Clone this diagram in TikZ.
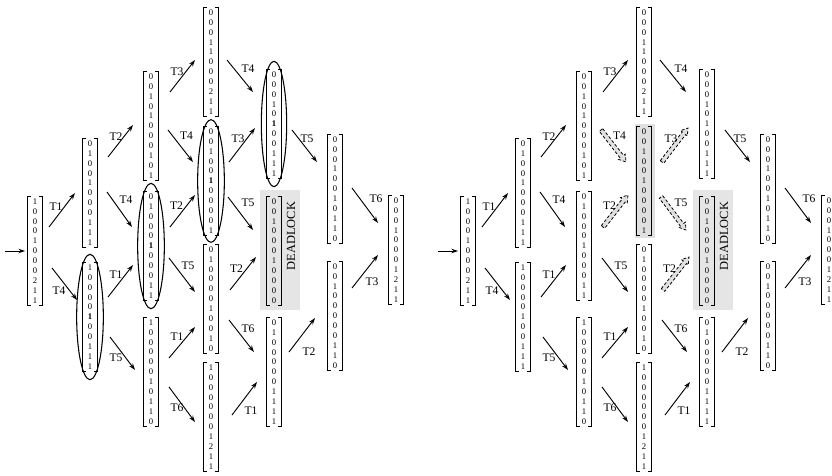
\documentclass[tikz,border=0pt]{standalone}
\usepackage{fontspec}
\setmainfont{Liberation Serif}
\usetikzlibrary{calc,arrows.meta,backgrounds}
\newcommand\vfont{\fontsize{6.5}{7.45}\selectfont}
\newcommand\lfont{\fontsize{8.7}{10}\selectfont}
\newcommand\dlfont{\fontsize{9.3}{10}\selectfont}
\tikzset{
 vec/.style={inner sep=0pt, minimum width=10.5pt, minimum height=81pt, align=center, font=\vfont},
 brk/.style={line width=0.8pt},
 arr/.style={line width=0.7pt, -{Stealth[length=5pt,width=3.4pt]}},
 lab/.style={font=\lfont, inner sep=0pt},
 ell/.style={draw, line width=0.8pt},
 dlbox/.style={fill=black!10, draw=none},
 hlbox/.style={fill=black!12, draw=none},
 fat/.style={draw, dash pattern=on 2.2pt off 1.5pt, fill=black!12, line width=0.6pt},
}
% normal arrow: src, src offset, dst, dst offset, label, label shift
\newcommand\tarr[6]{%
 \coordinate (#1#3s) at ($(#1)+(#2)$);
 \coordinate (#1#3e) at ($(#3)+(#4)$);
 \draw[arr] (#1#3s) -- (#1#3e);
 \node[lab] (#1#3l) at ($(#1#3s)!.5!(#1#3e)+(#6)$) {#5};
}
% fat dashed arrow
\newcommand\farr[6]{%
 \coordinate (#1#3s) at ($(#1)+(#2)$);
 \coordinate (#1#3e) at ($(#3)+(#4)$);
 \filldraw[fat] ($(#1#3s)!1.6pt!90:(#1#3e)$)
  -- ($(#1#3e)!5pt!(#1#3s)!1.6pt!-90:(#1#3s)$)
  -- ($(#1#3e)!5pt!(#1#3s)!3.2pt!-90:(#1#3s)$)
  -- (#1#3e)
  -- ($(#1#3e)!5pt!(#1#3s)!3.2pt!90:(#1#3s)$)
  -- ($(#1#3e)!5pt!(#1#3s)!1.6pt!90:(#1#3s)$)
  -- ($(#1#3s)!1.6pt!-90:(#1#3e)$) -- cycle;
 \node[lab] (#1#3l) at ($(#1#3s)!.5!(#1#3e)+(#6)$) {#5};
}
% whole net: prefix, mode (1 left, 2 right), x offset
\newcommand\net[3]{%
 \ifnum#2=1 \let\sarr\tarr \let\B\textbf \else \let\sarr\farr \let\B\relax \fi
 \node[vec] (#1c0)  at ({#3+35},251)  {1\\0\\0\\0\\1\\0\\0\\0\\2\\1\\1};
 \node[vec] (#1c1t) at ({#3+90},193)  {0\\1\\0\\0\\1\\0\\0\\0\\1\\1\\1};
 \node[vec] (#1c1b) at ({#3+90},317)  {1\\0\\0\\0\\0\\\B{1}\\0\\0\\1\\1\\1};
 \node[vec] (#1c2t) at ({#3+151},126) {0\\0\\1\\0\\1\\0\\0\\0\\1\\0\\1};
 \node[vec] (#1c2m) at ({#3+151},246) {0\\1\\0\\0\\0\\\B{1}\\0\\0\\0\\1\\1};
 \node[vec] (#1c2b) at ({#3+151},372) {1\\0\\0\\0\\0\\0\\1\\0\\1\\1\\0};
 \node[vec] (#1c3a) at ({#3+211},62)  {0\\0\\0\\1\\1\\0\\0\\0\\2\\1\\1};
 \node[vec] (#1c3b) at ({#3+211},181) {0\\0\\1\\0\\0\\\B{1}\\0\\0\\0\\0\\1};
 \node[vec] (#1c3c) at ({#3+211},299) {0\\1\\0\\0\\0\\0\\1\\0\\0\\1\\0};
 \node[vec] (#1c3d) at ({#3+211},417) {1\\0\\0\\0\\0\\0\\0\\1\\2\\1\\1};
 \node[vec] (#1c4t) at ({#3+274},124) {0\\0\\0\\1\\0\\\B{1}\\0\\0\\1\\1\\1};
 \node[vec] (#1c4d) at ({#3+274},251) {0\\0\\1\\0\\0\\0\\1\\0\\0\\0\\0};
 \node[vec] (#1c4b) at ({#3+274},372) {0\\1\\0\\0\\0\\0\\0\\1\\1\\1\\1};
 \node[vec] (#1c5t) at ({#3+335},189) {0\\0\\0\\1\\0\\0\\1\\0\\1\\1\\0};
 \node[vec] (#1c5b) at ({#3+335},316) {0\\0\\1\\0\\0\\0\\0\\0\\1\\1\\0};
 \node[vec] (#1c6)  at ({#3+396},250) {0\\0\\0\\1\\0\\0\\0\\1\\2\\1\\1};
 \foreach \n in {c0,c1t,c1b,c2t,c2m,c2b,c3a,c3b,c3c,c3d,c4t,c4d,c4b,c5t,c5b,c6}{
  \draw[brk] ([xshift=2.3pt]#1\n.north west) -| (#1\n.south west) -- ([xshift=2.3pt]#1\n.south west);
  \draw[brk] ([xshift=-2.3pt]#1\n.north east) -| (#1\n.south east) -- ([xshift=-2.3pt]#1\n.south east);
 }
 \begin{pgfonlayer}{background}
  \fill[dlbox] ($(#1c4d)+(-14,-61)$) rectangle ($(#1c4d)+(26,59)$);
 \end{pgfonlayer}
 \node[font=\dlfont, inner sep=0pt, rotate=90] (#1dl) at ($(#1c4d)+(17,-15)$) {DEADLOCK};
 \ifnum#2=1
  \draw[ell] (#1c1b) ellipse [x radius=10pt, y radius=47pt];
  \draw[ell] (#1c2m) ellipse [x radius=10pt, y radius=47pt];
  \draw[ell] (#1c3b) ellipse [x radius=10pt, y radius=46pt];
  \draw[ell] (#1c4t) ellipse [x radius=9.5pt, y radius=47pt];
 \else
  \begin{pgfonlayer}{background}
   \fill[hlbox] ($(#1c3b)+(-9.5,-57)$) rectangle ($(#1c3b)+(10.5,57)$);
  \end{pgfonlayer}
 \fi
 \coordinate (#1in) at ({#3+5},251);
 \draw[arr, shorten >=2pt] (#1in) -- (#1c0.west);
 \tarr{#1c0}{14,-24}{#1c1t}{-15,0}{T1}{-6,-3}
 \tarr{#1c0}{17,17}{#1c1b}{-13,-17}{T4}{-5.5,7}
 \tarr{#1c1t}{18,-36}{#1c2t}{-18,-1}{T2}{-4.5,-4}
 \tarr{#1c1t}{17,-1}{#1c2m}{-19,-19}{T4}{6.5,-9.5}
 \tarr{#1c1b}{18,-20}{#1c2m}{-18,19}{T1}{-4.5,-6}
 \tarr{#1c1b}{20,20}{#1c2b}{-16,-2}{T5}{-6.5,4}
 \tarr{#1c2t}{19,-34}{#1c3a}{-16,-2}{T3}{-5.5,-4}
 \sarr{#1c2t}{17,4}{#1c3b}{-18,-19}{T4}{6,-10.5}
 \sarr{#1c2m}{19,-19}{#1c3b}{-16,14}{T2}{-6,-5.5}
 \tarr{#1c2m}{18,12}{#1c3c}{-16,-7}{T5}{6,-9}
 \tarr{#1c2b}{18,-14}{#1c3c}{-16,28}{T1}{-5,-5.5}
 \tarr{#1c2b}{18,15}{#1c3d}{-16,5}{T6}{-5,3.5}
 \tarr{#1c3a}{16,-2}{#1c4t}{-21,-32}{T4}{8,-7}
 \sarr{#1c3b}{18,-19}{#1c4t}{-19,4}{T3}{-4,-6.5}
 \sarr{#1c3b}{17,16}{#1c4d}{-21,-21}{T5}{7.5,-11}
 \sarr{#1c3c}{19,-9}{#1c4d}{-18,6}{T2}{-6.5,-5}
 \tarr{#1c3c}{18,21}{#1c4b}{-20,-20}{T6}{6.5,-7}
 \tarr{#1c3d}{21,-2}{#1c4b}{-17,10}{T1}{6.5,12.5}
 \tarr{#1c4t}{18,6}{#1c5t}{-18,-27}{T5}{2.5,-7}
 \tarr{#1c4b}{15,-20}{#1c5b}{-20,2}{T2}{7,17}
 \tarr{#1c5t}{17,-1}{#1c6}{-18,-27}{T6}{11,-6.5}
 \tarr{#1c5b}{17,-28}{#1c6}{-18,5}{T3}{7,10.5}
}
\begin{document}
\begin{tikzpicture}[x=0.75pt,y=-0.75pt]
 \useasboundingbox (0,0) rectangle (832,475);
 \begin{pgfonlayer}{background}
  \fill[white] (0,0) rectangle (832,475);
 \end{pgfonlayer}
 \net{L}{1}{0}
 \net{R}{2}{433}
\end{tikzpicture}
\end{document}
